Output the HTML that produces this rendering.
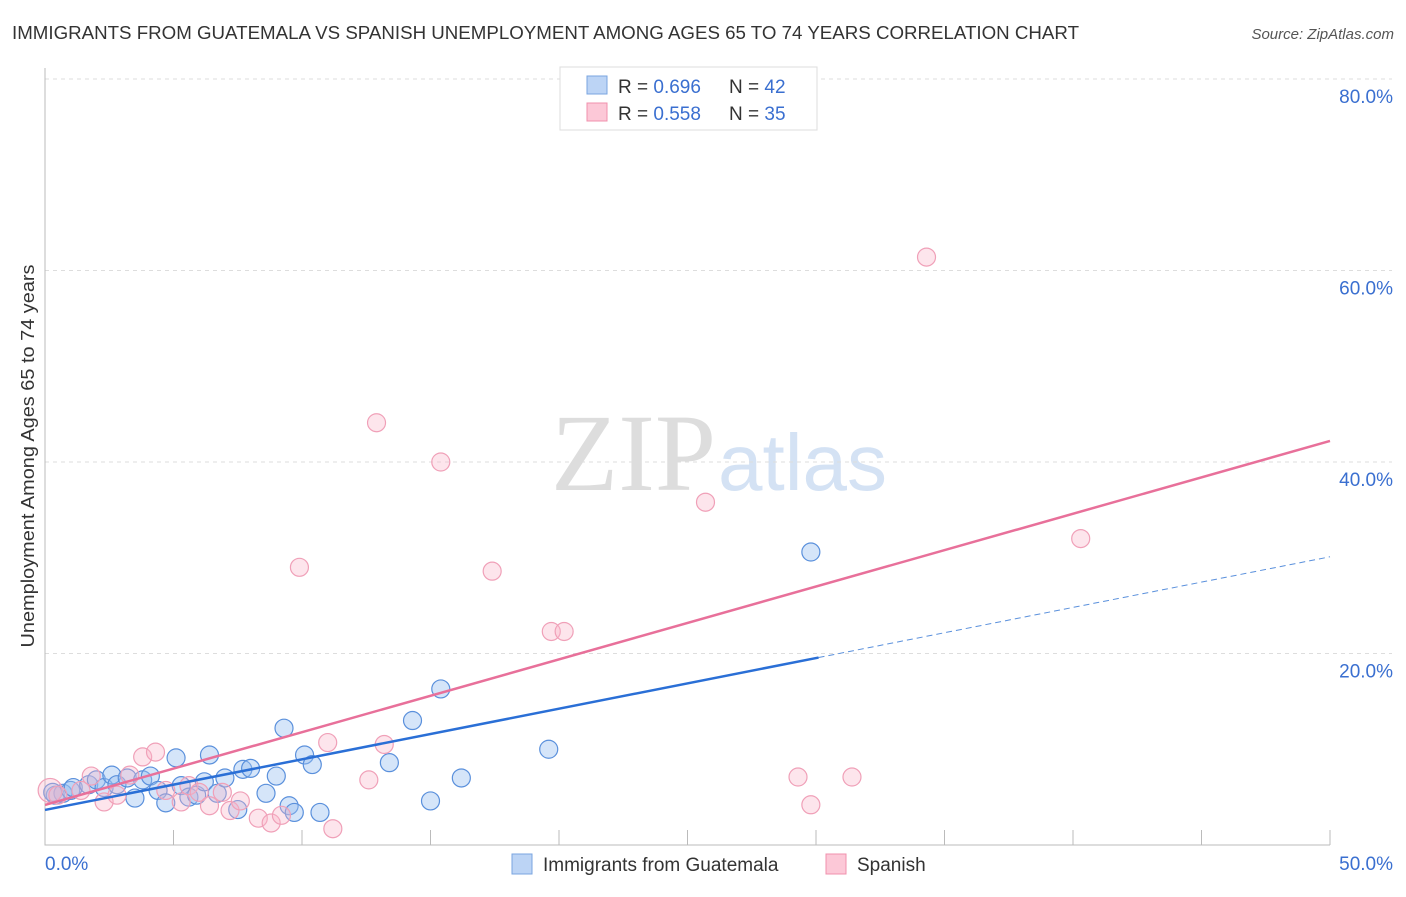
<!DOCTYPE html>
<html><head><meta charset="utf-8"><style>
body{margin:0;background:#fff;font-family:"Liberation Sans",sans-serif;}
</style></head><body>
<svg width="1406" height="892" xmlns="http://www.w3.org/2000/svg">
<text x="12" y="39" font-size="18" fill="#333" textLength="1067" lengthAdjust="spacingAndGlyphs">IMMIGRANTS FROM GUATEMALA VS SPANISH UNEMPLOYMENT AMONG AGES 65 TO 74 YEARS CORRELATION CHART</text>
<text x="1394" y="39" font-size="15" fill="#555" font-style="italic" text-anchor="end">Source: ZipAtlas.com</text>
<text x="716" y="490" font-size="110" fill="#ddd" font-family="Liberation Serif,serif" text-anchor="end">ZIP</text>
<text x="718" y="490" font-size="80" fill="#d4e2f4">atlas</text>
<g id="grid"></g>
<g id="axes"></g>
<text transform="translate(34,456) rotate(-90)" font-size="18" fill="#333" text-anchor="middle" textLength="383" lengthAdjust="spacingAndGlyphs">Unemployment Among Ages 65 to 74 years</text>
<g id="marks"></g>
<g id="lines"></g>
<g>
<rect x="560" y="67" width="257" height="63" fill="#fff" stroke="#ddd"/>
<rect x="587" y="76" width="20" height="18" fill="#bcd4f5" stroke="#7aa5e0"/>
<rect x="587" y="103" width="20" height="18" fill="#fcc8d7" stroke="#f090ac"/>
<text x="618" y="93" font-size="19" fill="#333">R = <tspan fill="#3a6fd0">0.696</tspan></text>
<text x="729" y="93" font-size="19" fill="#333">N = <tspan fill="#3a6fd0">42</tspan></text>
<text x="618" y="120" font-size="19" fill="#333">R = <tspan fill="#3a6fd0">0.558</tspan></text>
<text x="729" y="120" font-size="19" fill="#333">N = <tspan fill="#3a6fd0">35</tspan></text>
</g>
<g>
<rect x="512" y="854" width="20" height="20" fill="#bcd4f5" stroke="#7aa5e0"/>
<text x="543" y="871" font-size="19" fill="#333">Immigrants from Guatemala</text>
<rect x="826" y="854" width="20" height="20" fill="#fcc8d7" stroke="#f090ac"/>
<text x="857" y="871" font-size="19" fill="#333">Spanish</text>
</g>
</svg>
<script>
const blueX=[0.4,0.7,1.0,1.1,1.7,2.0,2.3,2.6,2.8,3.2,3.5,3.8,4.1,4.4,4.7,5.1,5.3,5.6,5.9,6.2,6.4,6.7,7.0,7.5,7.7,8.0,8.6,9.0,9.3,9.5,9.7,10.1,10.4,10.7,13.4,14.3,15.0,15.4,16.2,19.6,29.8,0.3];
const blueY=[5.2,5.4,5.7,6.0,6.3,6.8,6.0,7.3,6.3,7.0,4.9,6.8,7.2,5.7,4.4,9.1,6.2,5.0,5.2,6.6,9.4,5.4,7.0,3.7,7.9,8.0,5.4,7.2,12.2,4.1,3.4,9.4,8.4,3.4,8.6,13.0,4.6,16.3,7.0,10.0,30.6,5.5];
const pinkX=[0.2,0.5,1.4,2.3,1.8,2.8,3.3,3.8,4.3,4.7,5.3,5.6,6.0,6.4,6.9,7.2,7.6,8.3,8.8,9.2,9.9,11.0,11.2,12.6,12.9,13.2,15.4,17.4,19.7,20.2,25.7,29.3,29.8,31.4,34.3,40.3];
const pinkY=[5.7,5.2,5.7,4.5,7.2,5.2,7.3,9.2,9.7,5.7,4.5,6.2,5.5,4.1,5.5,3.6,4.6,2.8,2.3,3.1,29.0,10.7,1.7,6.8,44.1,10.5,40.0,28.6,22.3,22.3,35.8,7.1,4.2,7.1,61.4,32.0];
const yTicks=[20,40,60,80];
const xTickLabels=["0.0%","50.0%"];
const blueFit=[3.66,30.1], pinkFit=[4.18,42.2], blueSolidEnd=30.1;
const NS="http://www.w3.org/2000/svg";
const X=v=>45+v*25.7, Y=v=>845-v*9.575;
function mk(t,a,p){const e=document.createElementNS(NS,t);for(const k in a)e.setAttribute(k,a[k]);p.appendChild(e);return e;}
const grid=document.getElementById('grid'),axes=document.getElementById('axes'),marks=document.getElementById('marks'),lines=document.getElementById('lines');
yTicks.forEach(t=>{
 const l=mk('line',{x1:45,x2:1392,y1:Y(t),y2:Y(t),stroke:'#ddd','stroke-dasharray':'4,4'},grid);
 
 
 const tx=mk('text',{x:1393,y:Y(t)+24,'font-size':19,fill:'#3a6fd0','text-anchor':'end'},grid);
 tx.textContent=t+'.0%';
 
 
});
const ax=mk('path',{d:'M45,68V845H1330',stroke:'#bbb',fill:'none'},axes);


for(let i=1;i<=10;i++){const tk=mk('line',{x1:X(i*5),x2:X(i*5),y1:830,y2:845,stroke:'#bbb'},axes);
 
 }
[[0,'start',45],[50,'end',1393]].forEach((d,i)=>{const t=mk('text',{x:d[2],y:870,'font-size':19,fill:'#3a6fd0','text-anchor':d[1]},axes);t.textContent=xTickLabels[i];
 
 });
blueX.forEach((v,i)=>{const c=mk('circle',{cx:X(v),cy:Y(blueY[i]),r:9,fill:'rgba(150,190,240,0.4)',stroke:'#5a90dc','stroke-width':1.2},marks);
 
 });
pinkX.forEach((v,i)=>{const c=mk('circle',{cx:X(v),cy:Y(pinkY[i]),r:i==0?12:9,fill:'rgba(250,180,200,0.35)',stroke:'#f0a0b8','stroke-width':1.2},marks);
 
 });
const bf=x=>blueFit[0]+(blueFit[1]-blueFit[0])*x/50, pf=x=>pinkFit[0]+(pinkFit[1]-pinkFit[0])*x/50;
let l=mk('line',{x1:X(0),y1:Y(pf(0)),x2:X(50),y2:Y(pf(50)),stroke:'#e8709a','stroke-width':2.5},lines);


l=mk('line',{x1:X(0),y1:Y(bf(0)),x2:X(blueSolidEnd),y2:Y(bf(blueSolidEnd)),stroke:'#2a6fd6','stroke-width':2.5},lines);


l=mk('line',{x1:X(blueSolidEnd),y1:Y(bf(blueSolidEnd)),x2:X(50),y2:Y(bf(50)),stroke:'#5a90dc','stroke-width':1,'stroke-dasharray':'6,4'},lines);


</script>
</body></html>
